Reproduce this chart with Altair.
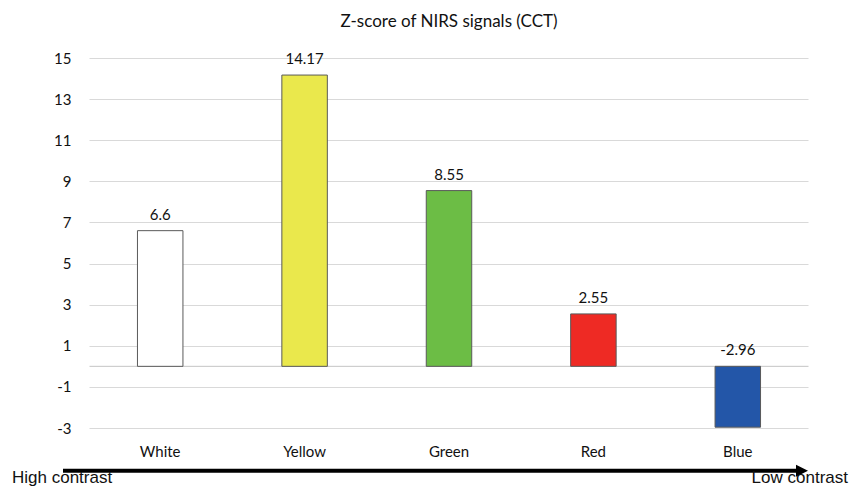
import altair as alt
import pandas as pd

categories = ["White", "Yellow", "Green", "Red", "Blue"]
values = [6.6, 14.17, 8.55, 2.55, -2.96]
fill_colors = ["#FFFFFF", "#EAE84C", "#6CBD45", "#EE2A24", "#2356A8"]
value_labels = ["6.6", "14.17", "8.55", "2.55", "-2.96"]
y_ticks = [-3, -1, 1, 3, 5, 7, 9, 11, 13, 15]
title_text = "Z-score of NIRS signals (CCT)"
left_note = "High contrast"
right_note = "Low contrast"

df = pd.DataFrame({"cat": categories, "value": values, "color": fill_colors, "label": value_labels})
df["label_pos"] = df["value"].clip(lower=0)
one = pd.DataFrame({"z": [0]})

FONT = "Lato"
TXT = "#111111"

x = alt.X(
    "cat:N", sort=categories,
    scale=alt.Scale(paddingInner=0.685, paddingOuter=0.3425),
    axis=alt.Axis(title=None, labelAngle=0, domain=False, ticks=False, grid=False,
                  labelPadding=28, labelBaseline="alphabetic", labelFont=FONT,
                  labelFontSize=15, labelColor=TXT),
)
y_scale = alt.Scale(domain=[-3, 15], nice=False, zero=False)
y = alt.Y(
    "value:Q", scale=y_scale,
    axis=alt.Axis(title=None, values=y_ticks, domain=False, ticks=False, grid=True,
                  gridColor="#d9d9d9", gridWidth=1, labelPadding=17, labelFont=FONT,
                  labelFontSize=15, labelColor=TXT, labelExpr="datum.value + ''"),
)

bars = alt.Chart(df).mark_bar(stroke="#595959", strokeWidth=1).encode(
    x=x, y=y, y2=alt.datum(0), color=alt.Color("color:N", scale=None)
)

zero_line = alt.Chart(one).mark_rule(color="#c4c4c4", strokeWidth=1).encode(
    y=alt.Y("z:Q", scale=y_scale)
)

labels = alt.Chart(df).mark_text(dy=-11, baseline="alphabetic", font=FONT, fontSize=15, color=TXT).encode(
    x=alt.X("cat:N", sort=categories),
    y=alt.Y("label_pos:Q", scale=y_scale),
    text="label:N",
)

title = alt.Chart(one).mark_text(baseline="alphabetic", align="center", font=FONT, fontSize=17, color=TXT).encode(
    x=alt.value(361), y=alt.value(-31), text=alt.value(title_text)
)

arrow_line = alt.Chart(one).mark_rule(color="black", strokeWidth=4).encode(
    x=alt.value(-25), x2=alt.value(712), y=alt.value(412.7)
)
arrow_head = alt.Chart(one).mark_point(
    shape="M -1 -1 L 1 0 L -1 1 Z", size=144, filled=True, color="black", opacity=1, strokeWidth=0
).encode(x=alt.value(714), y=alt.value(412.7))

left_txt = alt.Chart(one).mark_text(align="left", baseline="alphabetic", font="Liberation Sans", fontSize=17, color=TXT).encode(
    x=alt.value(-76), y=alt.value(425), text=alt.value(left_note)
)
right_txt = alt.Chart(one).mark_text(align="right", baseline="alphabetic", font="Liberation Sans", fontSize=17, color=TXT).encode(
    x=alt.value(760), y=alt.value(425), text=alt.value(right_note)
)

# white masks over the plot-frame edges
mask_left = alt.Chart(one).mark_rule(color="white", strokeWidth=3).encode(
    x=alt.value(0), y=alt.value(-2), y2=alt.value(372)
)
mask_right = alt.Chart(one).mark_rule(color="white", strokeWidth=3).encode(
    x=alt.value(722), y=alt.value(-2), y2=alt.value(372)
)

chart = alt.layer(zero_line, bars, labels, title, arrow_line, arrow_head, left_txt, right_txt,
                  mask_left, mask_right).properties(
    width=722, height=370,
    padding={"left": 80, "top": 50, "right": 40, "bottom": 61},
    autosize=alt.AutoSizeParams(type="none"),
    background="white",
).configure_view(stroke="transparent", strokeWidth=0).configure_axisX(grid=False).configure_axisY(domain=False)

chart.save("out.html", embed_options={"renderer": "svg", "actions": False})
